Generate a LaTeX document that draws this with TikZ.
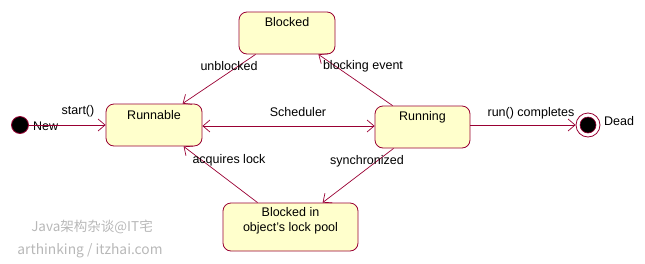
\documentclass[tikz,border=0pt]{standalone}
\usepackage{fontspec}
\setmainfont{Liberation Sans}
\newfontfamily\cjk{Noto Sans CJK SC}
\usetikzlibrary{arrows.meta,calc}
\definecolor{edge}{HTML}{990033}
\definecolor{boxfill}{HTML}{FFFFCC}
\definecolor{wm}{HTML}{B8B8B8}
\tikzset{
  state/.style={draw=edge, fill=boxfill, rounded corners=8pt, line width=0.8pt, inner sep=0pt},
  conn/.style={draw=edge, line width=0.7pt, -{Straight Barb[length=7pt,width=12pt]}},
  lbl/.style={font=\fontsize{12.5}{14.5}\selectfont, inner sep=0pt},
}
\begin{document}
\begin{tikzpicture}[x=1pt,y=-1pt]
\useasboundingbox (0,0) rectangle (645,263);
% states
\node[state, minimum width=96pt, minimum height=42pt] (blocked) at (287,33) {};
\node[lbl] (blockedt) at (287,22) {Blocked};
\node[state, minimum width=96pt, minimum height=42pt] (runnable) at (154,125) {};
\node[lbl] (runnablet) at (154,115) {Runnable};
\node[state, minimum width=95pt, minimum height=42pt] (running) at (422.5,127) {};
\node[lbl] (runningt) at (422.5,117) {Running};
\node[state, minimum width=135pt, minimum height=48pt] (pool) at (290.5,227) {};
\node[lbl, align=center] (poolt) at (290.5,221) {Blocked in\\[0pt]object's lock pool};
% initial and final
\node[circle, draw=edge, fill=black, line width=0.8pt, minimum size=17pt, inner sep=0pt] (init) at (20,125) {};
\node[lbl, anchor=west] (newl) at (33,126) {New};
\node[circle, draw=edge, fill=white, line width=0.8pt, minimum size=24pt, inner sep=0pt] (dead) at (588,125) {};
\node[circle, draw=edge, fill=black, line width=0.6pt, minimum size=16pt, inner sep=0pt] (deadin) at (588,125) {};
\node[lbl, anchor=west] (deadl) at (604,121) {Dead};
% connectors
\draw[conn] (init.east) -- (runnable.west |- init.east);
\node[lbl] (startl) at (78,111) {start()};
\draw[conn, {Straight Barb[length=7pt,width=12pt]}-{Straight Barb[length=7pt,width=12pt]}] ($(runnable.east)+(0,1)$) -- ($(running.west)+(0,-1)$);
\node[lbl] (schedl) at (298,112) {Scheduler};
\draw[conn] (running.east |- dead.west) -- (dead.west);
\node[lbl] (runl) at (531,113) {run() completes};
\draw[conn] ([xshift=17pt]blocked.south west) -- ([xshift=77pt]runnable.north west);
\node[lbl] (unbl) at (229,66) {unblocked};
\draw[conn] ([xshift=18pt]running.north west) -- ([xshift=-17pt]blocked.south east);
\node[lbl] (bevl) at (363,66) {blocking event};
\draw[conn] ([xshift=19pt]running.south west) -- ([xshift=100pt]pool.north west);
\node[lbl] (syncl) at (367,161) {synchronized};
\draw[conn] ([xshift=35pt]pool.north west) -- ([xshift=78pt]runnable.south west);
\node[lbl] (acql) at (229,160) {acquires lock};
% watermark
\node[font=\cjk\fontsize{13.5}{15}\selectfont, text=wm, inner sep=0pt] (wm1) at (92,227) {Java架构杂谈@IT宅};
\node[font=\cjk\fontsize{13.8}{15}\selectfont, text=wm, inner sep=0pt] (wm2) at (90,251) {arthinking / itzhai.com};
\end{tikzpicture}
\end{document}
